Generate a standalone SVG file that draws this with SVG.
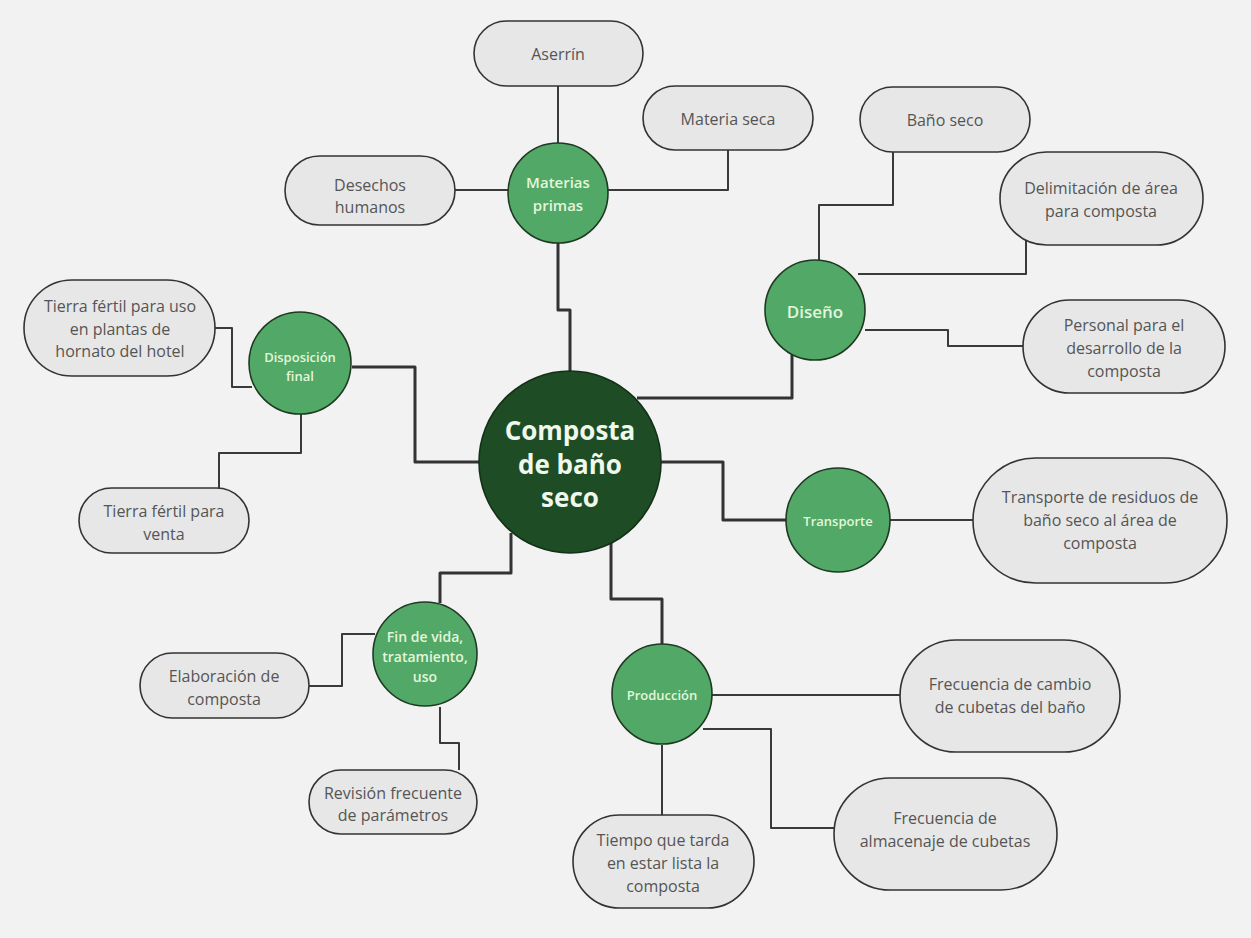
<svg xmlns="http://www.w3.org/2000/svg" width="1251" height="938" viewBox="0 0 1251 938">
<style>
.bg{fill:#f2f2f2}
.pill{fill:#e7e7e7;stroke:#333;stroke-width:1.6}
.pt{font-family:"Open Sans","Noto Sans",sans-serif;font-size:16px;fill:#555;text-anchor:middle;dominant-baseline:central}
.sub{fill:#52a866;stroke:#1f3a22;stroke-width:1.6}
.st{font-family:"Open Sans","Noto Sans",sans-serif;font-size:13px;font-weight:600;fill:#e4f6dc;text-anchor:middle;dominant-baseline:central}
.main{fill:#1e4d25;stroke:#143018;stroke-width:1.6}
.mt{font-family:"Open Sans","Noto Sans",sans-serif;font-size:26px;font-weight:700;fill:#f0f7ec;text-anchor:middle;dominant-baseline:central}
.c{fill:none;stroke:#3a3a3a;stroke-width:2;stroke-linejoin:round}
.ct{fill:none;stroke:#333;stroke-width:3;stroke-linejoin:round}
</style>
<rect class="bg" x="0" y="0" width="1251" height="938"/>
<g id="connectors">
<path class="c" d="M558 86 V145"/>
<path class="c" d="M728 150 V190 H607"/>
<path class="c" d="M455 190 H508"/>
<path class="ct" d="M558 243 V310 H570 V372"/>
<path class="c" d="M893 152 V205 H819 V261"/>
<path class="c" d="M1026 240 V274 H858"/>
<path class="c" d="M865 330 H948 V346 H1023"/>
<path class="ct" d="M792 355 V398 H637"/>
<path class="c" d="M215 328 H232 V387 H252"/>
<path class="c" d="M301 414 V453 H219 V488"/>
<path class="ct" d="M352 367 H415 V462 H479"/>
<path class="ct" d="M661 462 H723 V520 H786"/>
<path class="c" d="M890 520 H973"/>
<path class="ct" d="M511 533 V573 H440 V603"/>
<path class="c" d="M309 686 H342 V634 H375"/>
<path class="c" d="M440 707 V743 H459 V770"/>
<path class="ct" d="M611 543 V599 H662 V644"/>
<path class="c" d="M712 695 H900"/>
<path class="c" d="M703 729 H771 V828 H834"/>
<path class="c" d="M662 745 V815"/>
</g>
<g id="center">
<circle class="main" cx="570" cy="462" r="91"/>
<text class="mt" x="570" y="430">Composta</text>
<text class="mt" x="570" y="464">de baño</text>
<text class="mt" x="570" y="497">seco</text>
</g>
<g id="materias">
<circle class="sub" cx="558" cy="193" r="50"/>
<text class="st" x="558" y="182" style="font-size:15px">Materias</text>
<text class="st" x="558" y="205" style="font-size:15px">primas</text>
</g>
<g id="aserrin">
<rect class="pill" x="474" y="21" width="169" height="65" rx="32.5"/>
<text class="pt" x="558" y="54">Aserrín</text>
</g>
<g id="materia-seca">
<rect class="pill" x="643" y="86" width="170" height="64" rx="32"/>
<text class="pt" x="728" y="119">Materia seca</text>
</g>
<g id="desechos">
<rect class="pill" x="285" y="156" width="170" height="69" rx="34.5"/>
<text class="pt" x="370" y="185">Desechos</text>
<text class="pt" x="370" y="207">humanos</text>
</g>
<g id="diseno">
<circle class="sub" cx="815" cy="310" r="50"/>
<text class="st" x="815" y="311" style="font-size:17px">Diseño</text>
</g>
<g id="bano-seco">
<rect class="pill" x="860" y="87" width="170" height="65" rx="32.5"/>
<text class="pt" x="945" y="120">Baño seco</text>
</g>
<g id="delimitacion">
<rect class="pill" x="1000" y="152" width="203" height="93" rx="46.5"/>
<text class="pt" x="1101" y="188">Delimitación de área</text>
<text class="pt" x="1101" y="211">para composta</text>
</g>
<g id="personal">
<rect class="pill" x="1023" y="300" width="202" height="93" rx="46.5"/>
<text class="pt" x="1124" y="325">Personal para el</text>
<text class="pt" x="1124" y="348">desarrollo de la</text>
<text class="pt" x="1124" y="371">composta</text>
</g>
<g id="disposicion">
<circle class="sub" cx="300" cy="363" r="51"/>
<text class="st" x="300" y="357">Disposición</text>
<text class="st" x="300" y="376">final</text>
</g>
<g id="tierra-hotel">
<rect class="pill" x="24" y="280" width="191" height="96" rx="48"/>
<text class="pt" x="120" y="306">Tierra fértil para uso</text>
<text class="pt" x="120" y="329">en plantas de</text>
<text class="pt" x="120" y="351">hornato del hotel</text>
</g>
<g id="tierra-venta">
<rect class="pill" x="79" y="488" width="170" height="65" rx="32.5"/>
<text class="pt" x="164" y="511">Tierra fértil para</text>
<text class="pt" x="164" y="534">venta</text>
</g>
<g id="transporte">
<circle class="sub" cx="838" cy="520" r="52"/>
<text class="st" x="838" y="521">Transporte</text>
</g>
<g id="transporte-residuos">
<rect class="pill" x="973" y="458" width="254" height="125" rx="62.5"/>
<text class="pt" x="1100" y="497">Transporte de residuos de</text>
<text class="pt" x="1100" y="520">baño seco al área de</text>
<text class="pt" x="1100" y="543">composta</text>
</g>
<g id="fin-de-vida">
<circle class="sub" cx="425" cy="654" r="52"/>
<text class="st" x="425" y="636" style="font-size:14px">Fin de vida,</text>
<text class="st" x="425" y="656" style="font-size:14px">tratamiento,</text>
<text class="st" x="425" y="676" style="font-size:14px">uso</text>
</g>
<g id="elaboracion">
<rect class="pill" x="140" y="653" width="169" height="65" rx="32.5"/>
<text class="pt" x="224" y="676">Elaboración de</text>
<text class="pt" x="224" y="699">composta</text>
</g>
<g id="revision">
<rect class="pill" x="309" y="770" width="168" height="64" rx="32"/>
<text class="pt" x="393" y="793">Revisión frecuente</text>
<text class="pt" x="393" y="815">de parámetros</text>
</g>
<g id="produccion">
<circle class="sub" cx="662" cy="694" r="50"/>
<text class="st" x="662" y="695">Producción</text>
</g>
<g id="frec-cambio">
<rect class="pill" x="900" y="640" width="220" height="112" rx="56"/>
<text class="pt" x="1010" y="684">Frecuencia de cambio</text>
<text class="pt" x="1010" y="707">de cubetas del baño</text>
</g>
<g id="frec-almacenaje">
<rect class="pill" x="834" y="778" width="223" height="112" rx="56"/>
<text class="pt" x="945" y="818">Frecuencia de</text>
<text class="pt" x="945" y="841">almacenaje de cubetas</text>
</g>
<g id="tiempo">
<rect class="pill" x="573" y="815" width="181" height="93" rx="46.5"/>
<text class="pt" x="663" y="840">Tiempo que tarda</text>
<text class="pt" x="663" y="863">en estar lista la</text>
<text class="pt" x="663" y="886">composta</text>
</g>
</svg>
